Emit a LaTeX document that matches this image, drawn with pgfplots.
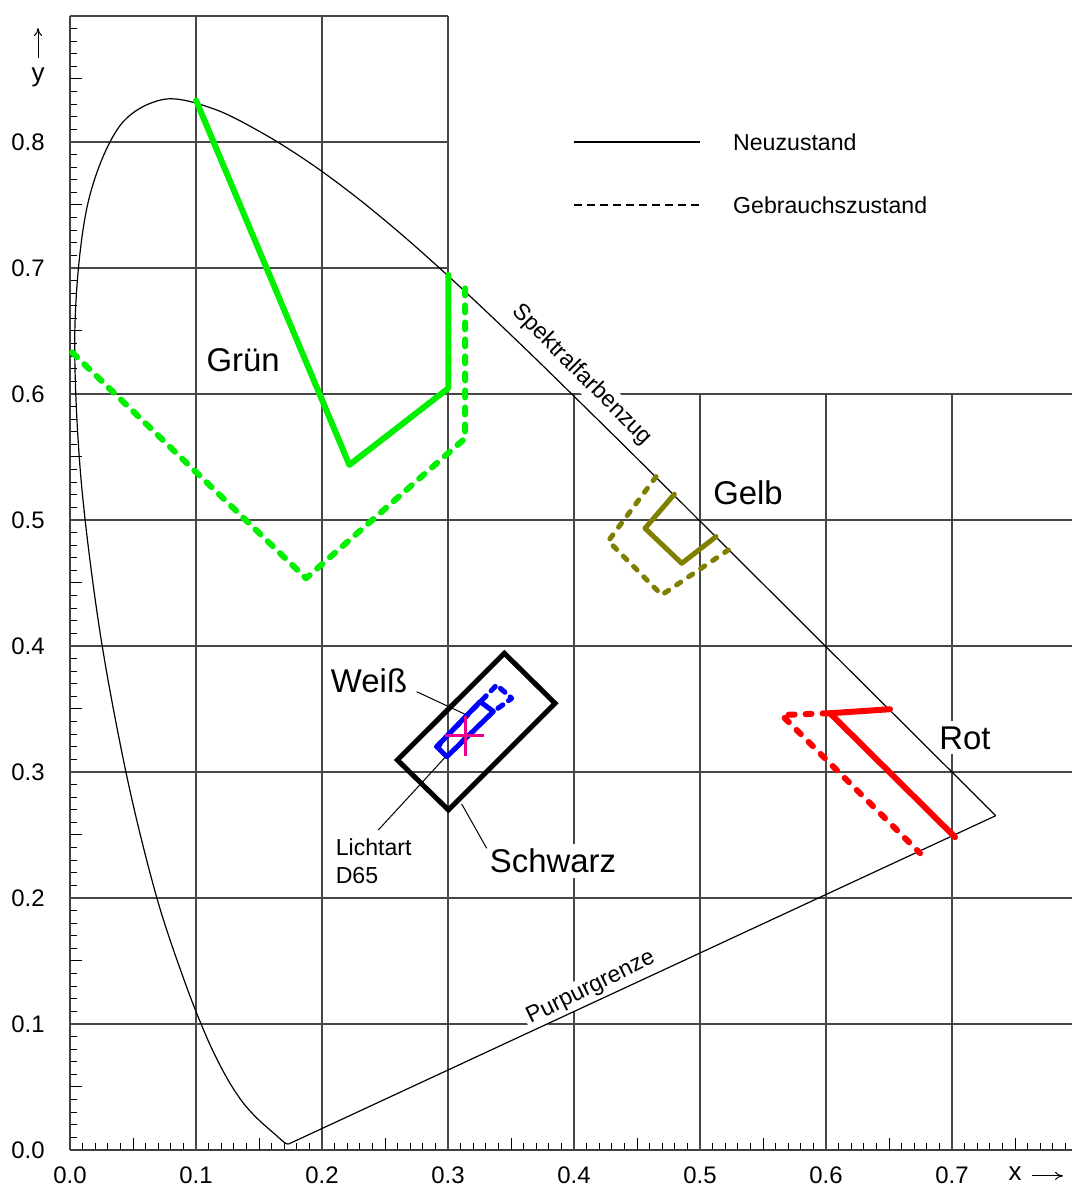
\documentclass[border=0pt]{standalone}
\usepackage{fontspec}
\setmainfont{Liberation Sans}
\usepackage{pgfplots}
\pgfplotsset{compat=1.18}
\usetikzlibrary{arrows.meta}
\definecolor{olivec}{RGB}{128,128,0}
\definecolor{greenc}{RGB}{0,240,0}
\begin{document}
\begin{tikzpicture}
\begin{axis}[
  scale only axis, width=500.85bp, height=567bp,
  xmin=0, xmax=0.795, ymin=0, ymax=0.9,
  axis lines*=left,
  axis line style={line width=0.6bp, black!75},
  clip=false,
  tick align=inside,
  xtick={0,0.1,0.2,0.3,0.4,0.5,0.6,0.7},
  ytick={0,0.1,0.2,0.3,0.4,0.5,0.6,0.7,0.8},
  minor xtick={0,0.01,...,0.79},
  minor ytick={0,0.01,...,0.9},
  extra x ticks={0.05,0.15,0.25,0.35,0.45,0.55,0.65,0.75},
  extra y ticks={0.05,0.15,0.25,0.35,0.45,0.55,0.65,0.75,0.85},
  extra x tick labels={}, extra y tick labels={},
  extra tick style={major tick length=6bp},
  major tick length=6bp, minor tick length=3.5bp,
  every tick/.style={black, line width=0.5bp},
  xticklabel style={inner sep=0pt, yshift=-8bp, font=\fontsize{12}{14}\selectfont},
  yticklabel style={inner sep=0pt, xshift=-12.5bp, font=\fontsize{12}{14}\selectfont},
  /pgf/number format/fixed, /pgf/number format/fixed zerofill,
  /pgf/number format/precision=1, /pgf/number format/assume math mode=true,
]
% bounding box
\path (axis cs:-0.0556,-0.0302) rectangle (axis cs:0.795,0.9127);
% grid
\draw[black!72, line width=0.6bp] (axis cs:0,0.9) -- (axis cs:0.3,0.9);
\draw[black!72, line width=0.6bp] (axis cs:0.1,0) -- (axis cs:0.1,0.9);
\draw[black!72, line width=0.6bp] (axis cs:0.2,0) -- (axis cs:0.2,0.9);
\draw[black!72, line width=0.6bp] (axis cs:0.3,0) -- (axis cs:0.3,0.9);
\draw[black!72, line width=0.6bp] (axis cs:0.4,0) -- (axis cs:0.4,0.6);
\draw[black!72, line width=0.6bp] (axis cs:0.5,0) -- (axis cs:0.5,0.6);
\draw[black!72, line width=0.6bp] (axis cs:0.6,0) -- (axis cs:0.6,0.6);
\draw[black!72, line width=0.6bp] (axis cs:0.7,0) -- (axis cs:0.7,0.6);
\draw[black!72, line width=0.6bp] (axis cs:0,0.7) -- (axis cs:0.3,0.7);
\draw[black!72, line width=0.6bp] (axis cs:0,0.8) -- (axis cs:0.3,0.8);
\draw[black!72, line width=0.6bp] (axis cs:0,0.1) -- (axis cs:0.795,0.1);
\draw[black!72, line width=0.6bp] (axis cs:0,0.2) -- (axis cs:0.795,0.2);
\draw[black!72, line width=0.6bp] (axis cs:0,0.3) -- (axis cs:0.795,0.3);
\draw[black!72, line width=0.6bp] (axis cs:0,0.4) -- (axis cs:0.795,0.4);
\draw[black!72, line width=0.6bp] (axis cs:0,0.5) -- (axis cs:0.795,0.5);
\draw[black!72, line width=0.6bp] (axis cs:0,0.6) -- (axis cs:0.795,0.6);
% labels with white background
\node[fill=white, inner sep=2.5bp, font=\fontsize{16.5}{18}\selectfont] at (axis cs:0.1373,0.6266) {Grün};
\node[fill=white, inner sep=2.5bp, font=\fontsize{16.5}{18}\selectfont] at (axis cs:0.5381,0.5214) {Gelb};
\node[fill=white, inner sep=2.5bp, font=\fontsize{16.5}{18}\selectfont] at (axis cs:0.7103,0.3270) {Rot};
\node[fill=white, inner sep=2.5bp, font=\fontsize{16.5}{18}\selectfont] at (axis cs:0.2373,0.3722) {Weiß};
\node[fill=white, inner sep=2.5bp, font=\fontsize{16.5}{18}\selectfont] at (axis cs:0.3833,0.2294) {Schwarz};
\node[fill=white, inner sep=1bp, anchor=north west, align=left, font=\fontsize{11.6}{14}\selectfont] at (axis cs:0.2090,0.2490) {Lichtart\\D65};
\node[fill=white, inner sep=1.5bp, rotate=-45, font=\fontsize{11.6}{14}\selectfont] at (axis cs:0.4061,0.6151) {Spektralfarbenzug};
\node[fill=white, inner sep=1.5bp, rotate=26.3, font=\fontsize{11.6}{14}\selectfont] at (axis cs:0.4135,0.1286) {Purpurgrenze};
% legend
\draw[black, line width=0.6bp] (axis cs:0.4,0.8) -- (axis cs:0.5,0.8);
\draw[black, line width=0.6bp, dash pattern=on 4bp off 2.5bp] (axis cs:0.4,0.75) -- (axis cs:0.5,0.75);
\node[anchor=west, inner sep=0pt, font=\fontsize{11.6}{14}\selectfont] at (axis cs:0.526,0.8) {Neuzustand};
\node[anchor=west, inner sep=0pt, font=\fontsize{11.6}{14}\selectfont] at (axis cs:0.526,0.75) {Gebrauchszustand};
% axis arrows
\draw[-{To[length=4bp,width=4bp]}, line width=0.5bp] (axis cs:-0.0254,0.8667) -- (axis cs:-0.0254,0.8905);
\node[inner sep=0pt, font=\fontsize{13}{15}\selectfont] at (axis cs:-0.0254,0.8516) {y};
\node[inner sep=0pt, font=\fontsize{13}{15}\selectfont] at (axis cs:0.750,-0.0190) {x};
\draw[-{To[length=4bp,width=4bp]}, line width=0.5bp] (axis cs:0.7635,-0.0206) -- (axis cs:0.7881,-0.0206);
% leader lines
\draw[line width=0.5bp] (axis cs:0.2751,0.3637) -- (axis cs:0.3148,0.3452);
\draw[line width=0.5bp] (axis cs:0.2447,0.2540) -- (axis cs:0.3135,0.3288);
\draw[line width=0.5bp] (axis cs:0.3108,0.2746) -- (axis cs:0.3307,0.2394);
% spectral locus
\addplot[black, line width=0.6bp, smooth, tension=0.55] coordinates {
(0.1741,0.0050) (0.1738,0.0049) (0.1733,0.0048) (0.1726,0.0048) (0.1714,0.0051)
(0.1703,0.0058) (0.1689,0.0069) (0.1669,0.0086) (0.1644,0.0109) (0.1611,0.0138)
(0.1566,0.0177) (0.1510,0.0227) (0.1440,0.0297) (0.1355,0.0399) (0.1241,0.0578)
(0.1096,0.0868) (0.0913,0.1327) (0.0687,0.2007) (0.0454,0.2950) (0.0235,0.4127)
(0.0082,0.5384) (0.0039,0.6548) (0.0139,0.7502) (0.0389,0.8120) (0.0743,0.8338)
(0.1142,0.8262) (0.1547,0.8059) (0.1929,0.7816) (0.2296,0.7543) (0.2658,0.7243)
(0.3016,0.6923) (0.3373,0.6589) (0.3731,0.6245) (0.4087,0.5896) (0.4441,0.5547)
(0.4788,0.5202) (0.5125,0.4866) (0.5448,0.4544) (0.5752,0.4242) (0.6029,0.3965)
(0.6270,0.3725) (0.6482,0.3514) (0.6658,0.3340) (0.6801,0.3197) (0.6915,0.3083)
(0.7006,0.2993) (0.7079,0.2920) (0.7140,0.2859) (0.7190,0.2809) (0.7230,0.2770)
(0.7260,0.2740) (0.7300,0.2700) (0.7320,0.2680) (0.7334,0.2666) (0.7347,0.2653)
};
% purple line
\addplot[black, line width=0.6bp] coordinates {(0.7347,0.2653) (0.1741,0.0050)};
% Gruen
\addplot[greenc, line width=3bp, line cap=round, line join=round] coordinates {
(0.1,0.833) (0.2217,0.5437) (0.3002,0.6045) (0.3002,0.6944)};
\addplot[greenc, line width=3bp, line cap=round, line join=round, dash pattern=on 3.5bp off 5bp] coordinates {
(0.0016,0.633) (0.1873,0.4537) (0.3135,0.5648) (0.3135,0.6839)};
% Gelb
\addplot[olivec, line width=2.5bp, line cap=round, line join=round] coordinates {
(0.4796,0.5204) (0.4563,0.4934) (0.4855,0.4656) (0.5127,0.4868)};
\addplot[olivec, line width=2.5bp, line cap=round, line join=round, dash pattern=on 2.5bp off 4.75bp] coordinates {
(0.4651,0.5344) (0.4272,0.4833) (0.4696,0.4405) (0.5225,0.4762)};
% Rot
\addplot[red, line width=3bp, line cap=round, line join=round] coordinates {
(0.6508,0.3498) (0.6032,0.3466) (0.7024,0.2482)};
\addplot[red, line width=3bp, line cap=round, line join=round, dash pattern=on 3bp off 5.5bp] coordinates {
(0.6020,0.3466) (0.5648,0.3452) (0.6746,0.2355)};
% Schwarz
\addplot[black, line width=2.5bp, line join=miter] coordinates {
(0.3447,0.3942) (0.3849,0.3545) (0.3003,0.2698) (0.2598,0.3095) (0.3447,0.3942) (0.3849,0.3545)};
% Weiss
\addplot[blue, line width=2.5bp, line cap=round, line join=round] coordinates {
(0.2935,0.3215) (0.2910,0.3201) (0.3254,0.3558) (0.3360,0.3480) (0.2990,0.3121) (0.2910,0.3201)};
\addplot[blue, line width=2.5bp, line cap=round, line join=round, dash pattern=on 3bp off 3.5bp] coordinates {
(0.2910,0.3201) (0.3386,0.3690) (0.3505,0.3585) (0.3452,0.3545) (0.3360,0.3480)};
% D65
\addplot[magenta, line width=1.5bp] coordinates {(0.2976,0.3288) (0.3286,0.3288)};
\addplot[magenta, line width=1.5bp] coordinates {(0.3135,0.3127) (0.3135,0.3444)};
\end{axis}
\end{tikzpicture}
\end{document}
